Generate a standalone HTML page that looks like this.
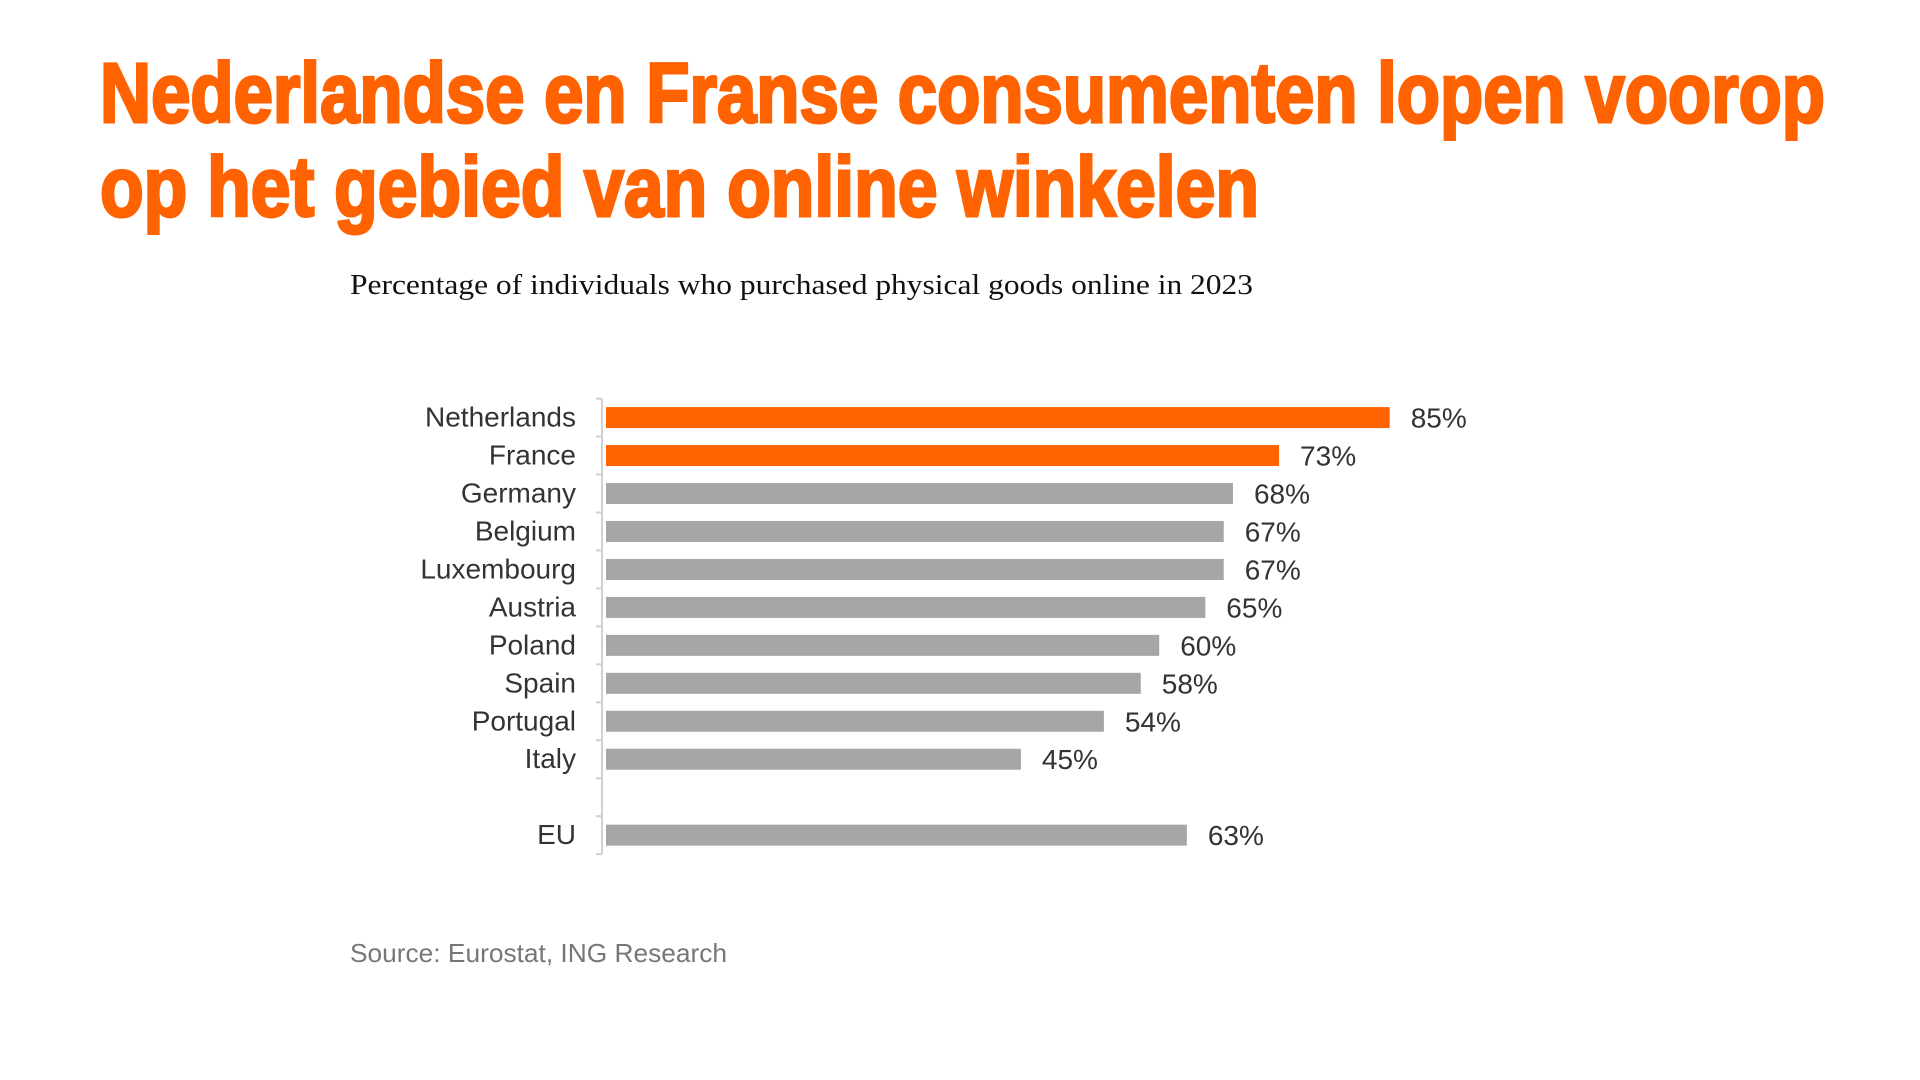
<!DOCTYPE html>
<html><head><meta charset="utf-8"><style>
html,body{margin:0;padding:0;background:#fff;width:1920px;height:1080px;overflow:hidden}
svg{display:block}
</style></head><body>
<svg id="c" width="1920" height="1080">
<text x="100" y="122" font-family="'Liberation Sans Narrow','Liberation Sans',sans-serif" font-weight="bold" font-size="84" fill="#FF6200" stroke="#FF6200" stroke-width="3" textLength="1725" lengthAdjust="spacingAndGlyphs">Nederlandse en Franse consumenten lopen voorop</text>
<text x="100" y="216" font-family="'Liberation Sans Narrow','Liberation Sans',sans-serif" font-weight="bold" font-size="84" fill="#FF6200" stroke="#FF6200" stroke-width="3" textLength="1159" lengthAdjust="spacingAndGlyphs">op het gebied van online winkelen</text>
<text x="350" y="294" font-family="'Liberation Serif',serif" font-size="29" fill="#111" textLength="903" lengthAdjust="spacingAndGlyphs">Percentage of individuals who purchased physical goods online in 2023</text>
<g id="plot"></g>
<text x="350" y="962" font-family="'Liberation Sans',sans-serif" font-size="26" fill="#777" textLength="377" lengthAdjust="spacingAndGlyphs">Source: Eurostat, ING Research</text>
</svg>
<script>
const categories=["Netherlands","France","Germany","Belgium","Luxembourg","Austria","Poland","Spain","Portugal","Italy","EU"];
const values=[85,73,68,67,67,65,60,58,54,45,63];
const slots=[0,1,2,3,4,5,6,7,8,9,11];
const highlighted=[true,true,false,false,false,false,false,false,false,false,false];
const NS="http://www.w3.org/2000/svg";
const g=document.getElementById('plot');
const x0=606, pxPerUnit=9.22, y0=417.6, rowH=37.96, barH=21;
const xs=v=>x0+v*pxPerUnit;
const ys=s=>y0+s*rowH;
function mk(t,a){const e=document.createElementNS(NS,t);for(const k in a)e.setAttribute(k,a[k]);g.appendChild(e);return e;}
const axis=mk('line',{x1:602,x2:602,y1:ys(0)-rowH/2,y2:ys(11)+rowH/2,stroke:'#d0d0d0','stroke-width':2});


for(let s=0;s<=12;s++){
  const t=mk('line',{x1:596,x2:602,y1:ys(s)-rowH/2,y2:ys(s)-rowH/2,stroke:'#d0d0d0','stroke-width':2});
  
  
}
categories.forEach((c,i)=>{
  const y=ys(slots[i]);
  const b=mk('rect',{x:x0,y:y-barH/2,width:xs(values[i])-x0,height:barH,fill:highlighted[i]?'#FF6200':'#a6a6a6'});
  
  
  const l=mk('text',{x:576,y:y+9,'text-anchor':'end','font-family':"'Liberation Sans',sans-serif",'font-size':28,fill:'#333'});
  l.textContent=c;
  
  
  const v=mk('text',{x:xs(values[i])+21,y:y+10,'font-family':"'Liberation Sans',sans-serif",'font-size':28,fill:'#333'});
  v.textContent=values[i]+'%';
  
  
});
</script>
</body></html>
